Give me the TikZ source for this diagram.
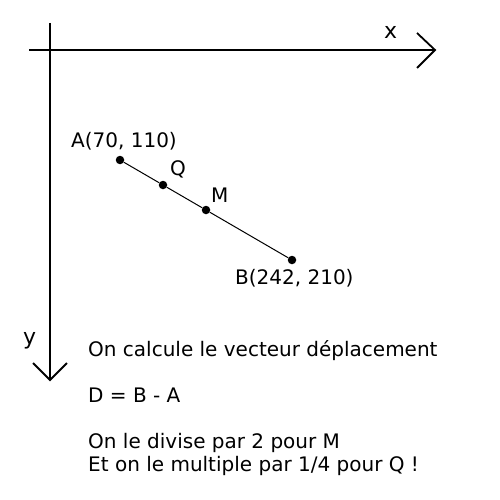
\documentclass[tikz,border=0pt]{standalone}
\usepackage{fontspec}
\setmainfont{DejaVu Sans}
\begin{document}
\begin{tikzpicture}[x=1pt,y=-1pt,
  axis/.style={line width=1.8pt},
  seg/.style={line width=1pt},
  pt/.style={circle,fill=black,inner sep=0pt,minimum size=8.5pt},
  axl/.style={anchor=base west,inner sep=0pt,font=\fontsize{22}{26}\selectfont},
  lbl/.style={anchor=base west,inner sep=0pt,font=\fontsize{20}{24}\selectfont},
  txt/.style={anchor=base west,inner sep=0pt,font=\fontsize{20}{24}\selectfont}]
\useasboundingbox (0,0) rectangle (500,500);
% axes
\coordinate (xs) at (29,50);
\coordinate (xe) at (435,50);
\coordinate (ys) at (50,23);
\coordinate (ye) at (50,380);
\draw[axis] (xs) -- (xe);
\draw[axis] (417,33) -- (xe) -- (417,68);
\draw[axis] (ys) -- (ye);
\draw[axis] (33,363) -- (ye) -- (67,363);
\node[axl] (xl) at (384,39) {x};
\node[axl] (yl) at (23,344) {y};
% points
\node[pt] (A) at (120,160) {};
\node[pt] (Q) at (163,185) {};
\node[pt] (M) at (206,210) {};
\node[pt] (B) at (292,260) {};
\draw[seg] (A) -- (Q) -- (M) -- (B);
\node[lbl] (Al) at (71,147) {A(70, 110)};
\node[lbl] (Ql) at (170,175) {Q};
\node[lbl] (Ml) at (211,202) {M};
\node[lbl] (Bl) at (235,284) {B(242, 210)};
% text
\node[txt] (t1) at (88,356) {On calcule le vecteur déplacement};
\node[txt] (t2) at (88,402) {D = B - A};
\node[txt] (t3) at (88,448) {On le divise par 2 pour M};
\node[txt] (t4) at (88,471) {Et on le multiple par 1/4 pour Q !};
\end{tikzpicture}
\end{document}
